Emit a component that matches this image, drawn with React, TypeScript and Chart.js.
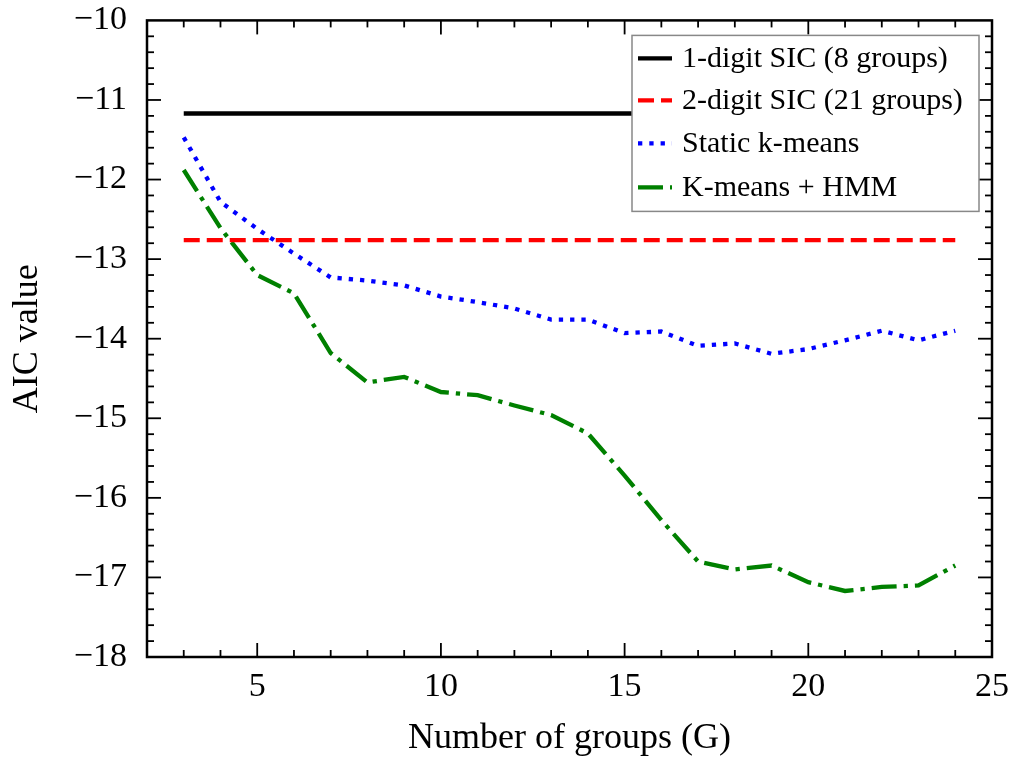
import React, { useEffect, useRef } from "react";
import { Chart, registerables } from "chart.js";

Chart.register(...registerables);

const groups = [3, 4, 5, 6, 7, 8, 9, 10, 11, 12, 13, 14, 15, 16, 17, 18, 19, 20, 21, 22, 23, 24];
const staticKMeans = [
  -11.47, -12.28, -12.62, -12.93, -13.23, -13.27, -13.33, -13.47, -13.54, -13.62, -13.76,
  -13.76, -13.93, -13.91, -14.09, -14.06, -14.19, -14.13, -14.02, -13.9, -14.02, -13.9,
];
const kmeansHMM = [
  -11.88, -12.61, -13.2, -13.43, -14.18, -14.55, -14.48, -14.67, -14.71, -14.84, -14.96,
  -15.19, -15.72, -16.28, -16.8, -16.9, -16.85, -17.06, -17.17, -17.12, -17.1, -16.85,
];
const sicSpan = [3, 24];
const sic1Value = -11.17;
const sic2Value = -12.76;
const xTickValues = [5, 10, 15, 20, 25];
const yTickValues = [-18, -17, -16, -15, -14, -13, -12, -11, -10];
const seriesLabels = [
  "1-digit SIC (8 groups)",
  "2-digit SIC (21 groups)",
  "Static k-means",
  "K-means + HMM",
];
const seriesColors = ["#000000", "#ff0000", "#0000ff", "#008000"];
const seriesDashes: number[][] = [[], [16, 7], [4.3, 7], [25, 7, 4.3, 7]];

const FONT = "'Liberation Serif', 'DejaVu Serif', serif";
const CANVAS_W = 1019;
const CANVAS_H = 780;
const SHIFT_Y = 20;

const fmt = (v: number) => (v < 0 ? "\u2212" + Math.abs(v) : String(v));

const frameTicks = {
  id: "frameTicks",
  afterDatasetsDraw(chart: any) {
    const { ctx, chartArea, scales } = chart;
    const { left, right, top, bottom } = chartArea;
    const x = scales.x;
    const y = scales.y;
    ctx.save();
    ctx.strokeStyle = "#000";
    ctx.lineWidth = 1.8;
    ctx.lineCap = "butt";
    const seg = (x1: number, y1: number, x2: number, y2: number) => {
      ctx.beginPath();
      ctx.moveTo(x1, y1);
      ctx.lineTo(x2, y2);
      ctx.stroke();
    };
    for (let v = 3; v <= 24; v++) {
      const px = x.getPixelForValue(v);
      const len = v % 5 === 0 ? 14 : 7;
      seg(px, bottom, px, bottom - len);
      seg(px, top, px, top + len);
    }
    for (let i = 1; i < 40; i++) {
      const v = -18 + i * 0.2;
      const py = y.getPixelForValue(v);
      const len = i % 5 === 0 ? 14 : 7;
      seg(left, py, left + len, py);
      seg(right, py, right - len, py);
    }
    ctx.lineWidth = 2.5;
    ctx.strokeRect(left, top, right - left, bottom - top);

    // legend (positions relative to the plot frame)
    const bx = left + 485, by = top + 15, bw = 347, bh = 176;
    ctx.fillStyle = "#ffffff";
    ctx.fillRect(bx, by, bw, bh);
    ctx.strokeStyle = "#888888";
    ctx.lineWidth = 1.5;
    ctx.strokeRect(bx, by, bw, bh);
    const rows = [23, 65, 108, 152];
    ctx.font = `30px ${FONT}`;
    ctx.textBaseline = "middle";
    ctx.textAlign = "left";
    rows.forEach((r, i) => {
      const ry = by + r;
      ctx.strokeStyle = seriesColors[i];
      ctx.lineWidth = 4.3;
      ctx.setLineDash(seriesDashes[i]);
      seg(bx + 6, ry, bx + 40, ry);
      ctx.setLineDash([]);
      ctx.fillStyle = "#000";
      ctx.fillText(seriesLabels[i], bx + 50, ry + 1);
    });
    ctx.restore();
  },
};

export default function App() {
  const ref = useRef<HTMLCanvasElement | null>(null);
  useEffect(() => {
    if (!ref.current) return;
    const chart = new Chart(ref.current, {
      type: "line",
      data: {
        datasets: [
          {
            label: seriesLabels[0],
            data: sicSpan.map((g) => ({ x: g, y: sic1Value })),
            borderColor: seriesColors[0],
            borderWidth: 4.3,
            borderDash: seriesDashes[0],
            pointRadius: 0,
            tension: 0,
          },
          {
            label: seriesLabels[1],
            data: sicSpan.map((g) => ({ x: g, y: sic2Value })),
            borderColor: seriesColors[1],
            borderWidth: 4.3,
            borderDash: seriesDashes[1],
            borderCapStyle: "butt",
            pointRadius: 0,
            tension: 0,
          },
          {
            label: seriesLabels[2],
            data: groups.map((g, i) => ({ x: g, y: staticKMeans[i] })),
            borderColor: seriesColors[2],
            borderWidth: 4.3,
            borderDash: seriesDashes[2],
            borderCapStyle: "butt",
            pointRadius: 0,
            tension: 0,
          },
          {
            label: seriesLabels[3],
            data: groups.map((g, i) => ({ x: g, y: kmeansHMM[i] })),
            borderColor: seriesColors[3],
            borderWidth: 4.3,
            borderDash: seriesDashes[3],
            borderCapStyle: "butt",
            pointRadius: 0,
            tension: 0,
          },
        ],
      },
      options: {
        animation: false,
        responsive: false,
        maintainAspectRatio: false,
        layout: { padding: { top: 0, right: 14, left: 0, bottom: 0 } },
        plugins: {
          legend: { display: false },
          tooltip: { enabled: false },
        },
        scales: {
          x: {
            type: "linear",
            min: 2,
            max: 25,
            afterBuildTicks: (s: any) => {
              s.ticks = xTickValues.map((v) => ({ value: v }));
            },
            afterFit: (s: any) => {
              s.height = 103;
            },
            grid: { display: false, drawTicks: false },
            border: { display: false },
            ticks: {
              color: "#000",
              font: { family: FONT, size: 34 },
              padding: 10,
              maxRotation: 0,
              autoSkip: false,
              callback: (v: any) => fmt(Number(v)),
            },
            title: {
              display: true,
              text: "Number of groups (G)",
              color: "#000",
              font: { family: FONT, size: 36 },
              padding: { top: 0, bottom: 0 },
            },
          },
          y: {
            type: "linear",
            min: -18,
            max: -10,
            afterBuildTicks: (s: any) => {
              s.ticks = yTickValues.map((v) => ({ value: v }));
            },
            afterFit: (s: any) => {
              s.width = 147;
            },
            grid: { display: false, drawTicks: false },
            border: { display: false },
            ticks: {
              color: "#000",
              font: { family: FONT, size: 34 },
              padding: 20,
              autoSkip: false,
              callback: (v: any) => fmt(Number(v)),
            },
            title: {
              display: true,
              text: "AIC value",
              color: "#000",
              font: { family: FONT, size: 36 },
              padding: { top: 6, bottom: 0 },
            },
          },
        },
      },
      plugins: [frameTicks],
    } as any);
    return () => chart.destroy();
  }, []);
  return (
    <div
      style={{
        position: "absolute",
        left: 0,
        top: 0,
        width: 1013,
        height: 760,
        overflow: "hidden",
        background: "#fff",
      }}
    >
      <canvas
        ref={ref}
        width={CANVAS_W}
        height={CANVAS_H}
        style={{ position: "absolute", left: 0, top: -SHIFT_Y }}
      />
    </div>
  );
}
